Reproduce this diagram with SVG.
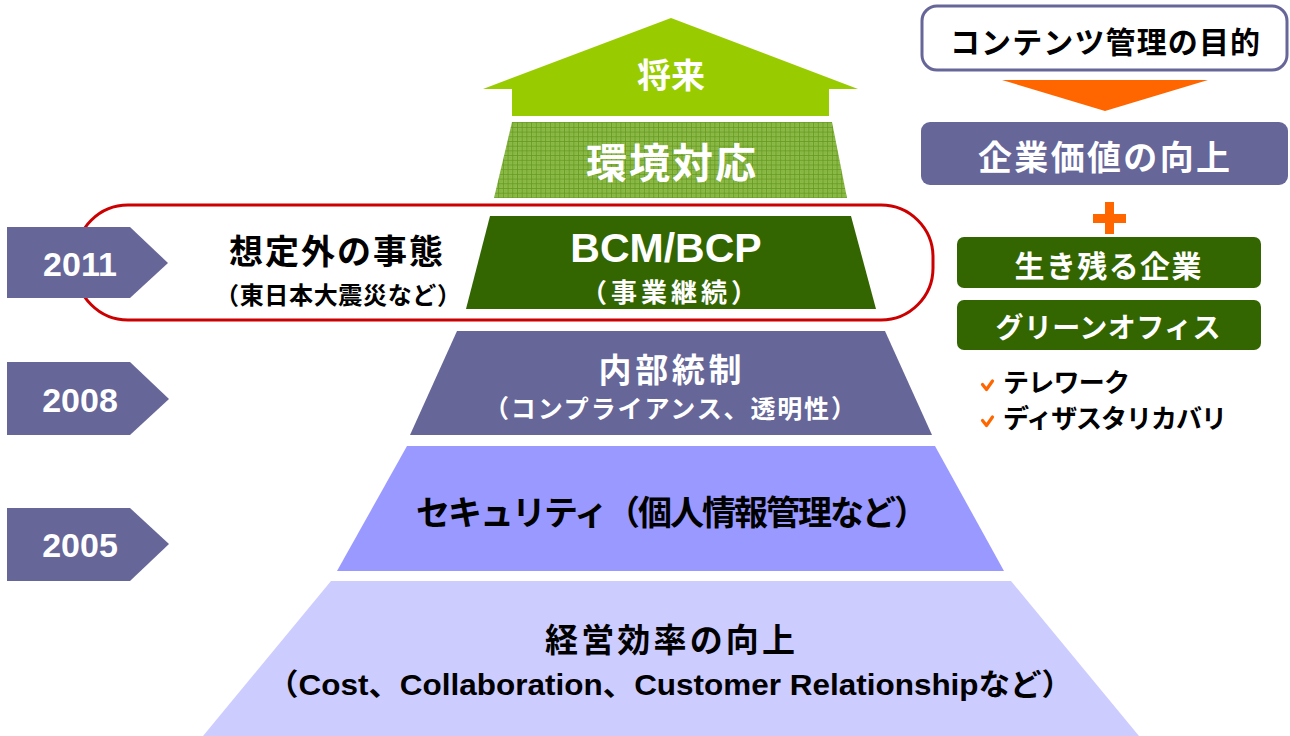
<svg xmlns="http://www.w3.org/2000/svg" width="1290" height="736" viewBox="0 0 1290 736">
<defs>
<style>
text{font-family:"Liberation Sans","Noto Sans CJK JP",sans-serif;font-weight:bold;text-anchor:middle}
.w{fill:#ffffff}
.k{fill:#000000}
.tag{fill:#666699}
.lbl{text-anchor:start}
.tick{fill:none;stroke:#FF6600;stroke-width:3.2;stroke-linejoin:round;stroke-linecap:round}
</style>
<pattern id="grid" x="0" y="0" width="4.7" height="4.7" patternUnits="userSpaceOnUse">
<rect width="4.7" height="4.7" fill="#8DBB48"/>
<path d="M0 0.4H4.7M0.4 0V4.7" stroke="#659A22" stroke-width="0.9"/>
<rect x="2.3" y="2.3" width="0.8" height="0.8" fill="#6E9E30"/>
</pattern>
</defs>
<rect width="1290" height="736" fill="#ffffff"/>

<g id="layer-future">
<polygon points="671,18 858,89 829,89 829,116 512,116 512,89 483,89" fill="#99CC00"/>
<text class="w" x="671" y="88" font-size="34">将来</text>
</g>

<g id="layer-environment">
<polygon points="512,122 832,122 847,198 494,198" fill="url(#grid)"/>
<text class="w" x="671" y="178" font-size="41" textLength="170">環境対応</text>
</g>

<g id="highlight-2011">
<rect x="76" y="205" width="857" height="115" rx="52" ry="52" fill="none" stroke="#CC0000" stroke-width="3"/>
<text class="k" x="336" y="264" font-size="34" textLength="214">想定外の事態</text>
<text class="k" x="338" y="304" font-size="24" textLength="246">（東日本大震災など）</text>
</g>

<g id="layer-bcm">
<polygon points="490,216 851,216 876,309 466,309" fill="#336600"/>
<text class="w" x="666" y="262" font-size="41">BCM/BCP</text>
<text class="w" x="669" y="302" font-size="26" textLength="176">（事業継続）</text>
</g>

<g id="layer-internal">
<polygon points="457,331 885,331 932,435 410,435" fill="#666699"/>
<text class="w" x="670" y="382" font-size="33" textLength="143">内部統制</text>
<text class="w" x="670" y="418" font-size="25" textLength="372">（コンプライアンス、透明性）</text>
</g>

<g id="layer-security">
<polygon points="407,446 935,446 1004,571 337,571" fill="#9999FF"/>
<text class="k" x="672" y="525" font-size="34" textLength="512">セキュリティ（個人情報管理など）</text>
</g>

<g id="layer-efficiency">
<polygon points="331,581 1011,581 1139,736 203,736" fill="#CCCCFF"/>
<text class="k" x="670" y="652" font-size="33" textLength="250">経営効率の向上</text>
<text class="k" x="670" y="695" font-size="30" textLength="806" lengthAdjust="spacingAndGlyphs">（Cost、Collaboration、Customer Relationshipなど）</text>
</g>

<g id="tag-2011">
<polygon class="tag" points="7,227 130,227 168,263 130,298 7,298"/>
<text class="w" x="80" y="276" font-size="34">2011</text>
</g>
<g id="tag-2008">
<polygon class="tag" points="7,362 130,362 169,399 130,435 7,435"/>
<text class="w" x="80" y="412" font-size="34">2008</text>
</g>
<g id="tag-2005">
<polygon class="tag" points="7,508 130,508 169,544 130,581 7,581"/>
<text class="w" x="80" y="557" font-size="34">2005</text>
</g>

<g id="purpose">
<rect x="922" y="6" width="365" height="64" rx="15" ry="15" fill="#ffffff" stroke="#666699" stroke-width="3"/>
<text class="k" x="1105" y="53" font-size="30" textLength="310">コンテンツ管理の目的</text>
</g>

<g id="connectors">
<polygon points="1002,80 1208,80 1105,111" fill="#FF6600"/>
<path d="M1105 202H1114V214H1126V223H1114V234H1105V223H1093V214H1105Z" fill="#FF6600"/>
</g>

<g id="corporate-value">
<rect x="921" y="122" width="367" height="63" rx="9" ry="9" fill="#666699"/>
<text class="w" x="1104" y="170" font-size="34" textLength="252">企業価値の向上</text>
</g>

<g id="surviving">
<rect x="957" y="237" width="304" height="51" rx="7" ry="7" fill="#336600"/>
<text class="w" x="1108" y="277" font-size="30" textLength="187">生き残る企業</text>
</g>

<g id="green-office">
<rect x="957" y="300" width="304" height="50" rx="7" ry="7" fill="#336600"/>
<text class="w" x="1108" y="338" font-size="28" textLength="225">グリーンオフィス</text>
</g>

<g id="checklist">
<path class="tick" d="M982.5 384.5L986.5 389.5L992.5 381"/>
<path class="tick" d="M982.5 420.5L986.5 425.5L992.5 417"/>
<text class="k lbl" x="1003" y="392" font-size="26" textLength="127">テレワーク</text>
<text class="k lbl" x="1003" y="428" font-size="26" textLength="224">ディザスタリカバリ</text>
</g>
</svg>
